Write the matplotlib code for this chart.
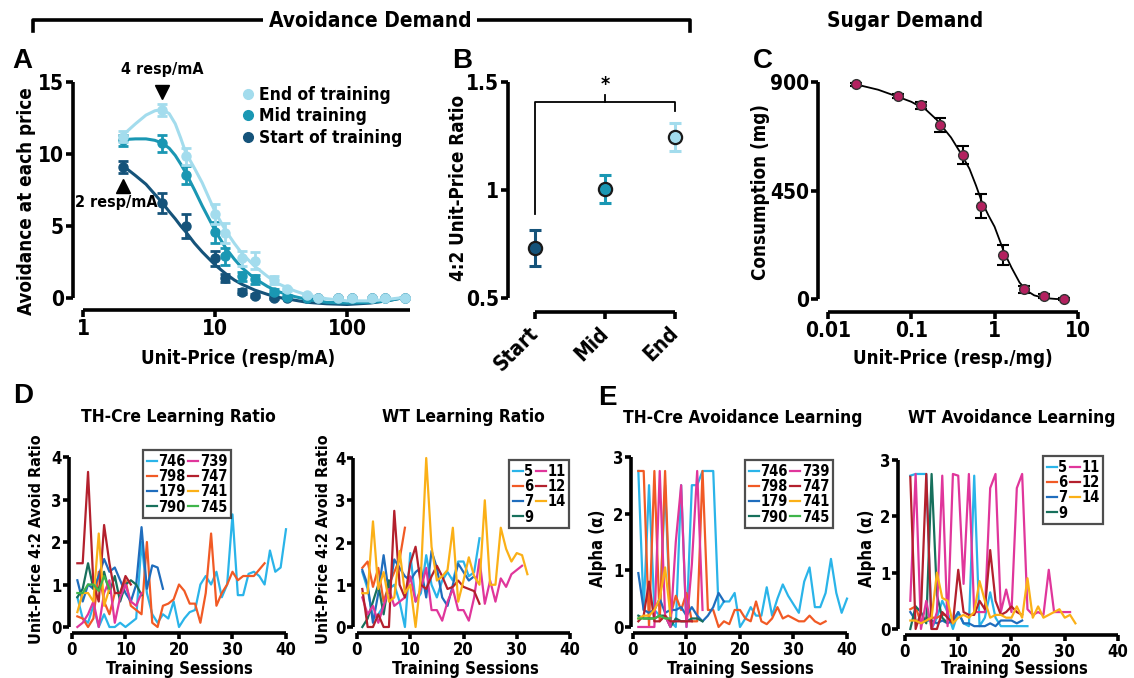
import matplotlib
matplotlib.use("Agg")
import matplotlib.pyplot as plt
from matplotlib import font_manager
from matplotlib.lines import Line2D

W, H = 1134, 678

# ---------------- data ----------------
# Panel A: avoidance demand at each unit price
a_price = [2, 4, 6, 10, 12, 16, 20, 28, 35, 50, 60, 86, 110, 155, 195, 277]
a_end = [11.2, 13.05, 9.85, 5.85, 4.5, 2.75, 2.6, 1.25, 0.6, 0.2, 0.0, 0.0, 0.0, 0.0, 0.0, 0.0]
a_end_err = [0.4, 0.4, 0.6, 0.7, 0.7, 0.5, 0.6, 0.3, 0.1, 0.05, 0, 0, 0, 0, 0, 0]
a_mid = [10.95, 10.75, 8.55, 4.55, 2.9, 1.5, 1.3, 0.45, 0.1, 0.0, 0.0, 0.0, 0.0, 0.0, 0.0, 0.0]
a_mid_err = [0.4, 0.6, 0.6, 0.7, 0.6, 0.3, 0.3, 0.2, 0.1, 0, 0, 0, 0, 0, 0, 0]
a_start = [9.1, 6.6, 5.0, 2.75, 1.4, 0.45, 0.15, 0.0, 0.0, 0.0, 0.0, 0.0, 0.0, 0.0, 0.0, 0.0]
a_start_err = [0.4, 0.7, 0.8, 0.5, 0.3, 0.2, 0.1, 0.1, 0, 0, 0, 0, 0, 0, 0, 0]

# fitted curves
fit_price = [2, 2.5, 3, 3.5, 4, 4.5, 5, 5.5, 6, 7, 8, 10, 12, 14, 16, 20, 25, 30, 40, 50, 70, 100, 150, 200, 277]
fit_end = [11.3, 12.1, 12.7, 13.0, 13.1, 12.8, 12.1, 11.1, 10.1, 9.0, 8.0, 6.0, 4.7, 3.8, 3.1, 2.2, 1.5, 1.0, 0.5, 0.2, -0.05, -0.2, -0.2, -0.1, 0.05]
fit_mid = [11.0, 11.05, 11.05, 10.95, 10.75, 10.4, 9.9, 9.3, 8.7, 7.5, 6.4, 4.7, 3.5, 2.7, 2.1, 1.35, 0.8, 0.45, 0.1, -0.1, -0.3, -0.35, -0.3, -0.2, 0.05]
fit_start = [9.2, 8.5, 7.9, 7.2, 6.6, 6.0, 5.5, 5.0, 4.6, 3.8, 3.2, 2.3, 1.7, 1.25, 0.95, 0.55, 0.25, 0.05, -0.15, -0.3, -0.4, -0.45, -0.35, -0.2, 0.05]

# Panel B: 4:2 unit-price ratio
b_groups = ["Start", "Mid", "End"]
b_ratio = [0.73, 1.005, 1.245]
b_err = [0.083, 0.065, 0.065]

# Panel C: sugar demand
c_price = [0.0217, 0.0686, 0.132, 0.219, 0.413, 0.69, 1.26, 2.23, 3.94, 6.92]
c_cons = [890, 841, 803, 721, 597, 386, 183, 41, 11, 0]
c_err = [5, 8, 15, 28, 37, 48, 41, 15, 8, 3]
c_fit_price = [0.02, 0.04, 0.07, 0.1, 0.15, 0.2, 0.3, 0.4, 0.5, 0.6, 0.7, 0.85, 1.0, 1.3, 1.6, 2.0, 2.5, 3.0, 4.0, 5.5, 7.0]
c_fit_cons = [893, 868, 838, 818, 785, 745, 670, 600, 540, 470, 405, 345, 300, 195, 130, 68, 32, 15, 4, 0, 0]

# Panel D: learning ratio per subject (session 1..n)
d_th = {
    "746": [0.7, 0.2, 0.1, 0.5, 0.0, 0.3, 0.0, 0.0, 0.1, 0.0, 0.1, 0.2, 2.0, 0.8, 0.3, 0.1, 0.3, 0.2, 0.6, 0.0,
            0.2, 0.35, 0.4, 1.0, 1.2, 1.0, 1.3, 0.7, 1.0, 2.65, 0.75, 0.75, 1.25, 1.3, 1.2, 1.0, 1.8, 1.3, 1.4, 2.3],
    "798": [0.25, 0.2, 0.0, 0.2, 1.3, 0.6, 0.3, 0.8, 0.8, 1.1, 0.5, 0.4, 0.3, 2.0, 0.1, 0.0, 0.5, 0.55,
            0.65, 1.0, 0.85, 0.55, 0.55, 0.1, 0.8, 2.2, 0.5, 0.8, 1.0, 1.3, 1.1, 1.2, 1.2, 1.2, 1.35, 1.5],
    "179": [1.1, 0.6, 1.0, 0.9, 1.2, 1.6, 1.3, 1.4, 1.1, 0.8, 0.6, 1.0, 2.35, 0.9, 1.45, 1.4, 0.9],
    "790": [0.7, 0.9, 1.5, 0.9, 0.9, 1.3, 0.8, 1.2, 0.6, 1.0, 1.1, 1.0, 0.75],
    "739": [0.0, 0.1, 0.3, 0.6, 0.0, 0.8, 1.1, 0.1, 0.7, 1.0, 0.6, 0.5, 0.8],
    "747": [1.5, 1.5, 3.65, 1.0, 0.6, 2.4, 1.5, 0.8, 0.8, 1.2, 1.0],
    "741": [0.35, 0.8, 0.8, 0.6, 2.2, 0.5, 0.9],
    "745": [0.8, 0.8, 1.0, 1.0, 0.85, 1.2, 0.9],
}
d_wt = {
    "5": [1.3, 0.9, 0.2, 0.3, 0.5, 0.9, 1.0, 0.6, 0.0, 1.75, 0.6, 0.8, 1.7, 1.0, 0.7, 1.1, 1.3, 1.1, 1.55, 1.55, 1.2, 1.3, 2.1],
    "6": [1.4, 1.55, 0.95, 1.4, 0.6, 1.0, 1.3, 1.6, 2.35],
    "7": [1.35, 1.0, 0.1, 0.8, 1.7, 0.8, 1.6, 1.4, 1.2, 1.1, 1.3, 1.4, 0.7, 1.8, 1.4, 0.7, 0.5, 1.0, 1.5, 1.3, 1.1, 1.2],
    "9": [0.0, 0.2, 0.6, 1.0, 0.3, 1.1],
    "11": [0.7, 0.3, 0.5, 0.1, 0.5, 0.9, 0.5, 0.6, 0.7, 1.2, 0.6, 0.9, 1.4, 0.4, 0.4, 0.15, 0.6, 0.9, 0.4, 0.4,
           0.15, 0.7, 1.6, 0.55, 1.1, 0.6, 1.15, 0.95, 1.25, 1.35, 1.45],
    "12": [0.9, 0.0, 0.0, 0.3, 0.0, 0.0, 2.75, 1.0, 0.7, 1.5, 1.9, 1.0, 0.9, 1.2, 1.45, 1.2, 0.9, 0.95, 1.1, 0.95, 0.9, 0.85, 0.55],
    "14": [0.8, 0.8, 2.5, 0.9, 1.3, 0.6, 0.7, 1.8, 0.8, 1.0, 0.0, 1.2, 4.0, 1.9, 1.1, 1.2, 1.35, 2.35, 0.6, 1.1,
           1.65, 1.2, 1.0, 3.0, 1.0, 1.0, 2.35, 1.85, 1.55, 1.75, 1.7, 1.25],
}

# Panel E: alpha per subject
e_th = {
    "746": [2.75, 0.3, 2.5, 0.3, 0.2, 2.5, 0.1, 0.0, 2.5, 0.0, 2.5, 2.5, 2.75, 2.75, 2.75, 0.3, 0.45, 0.45, 0.6, 0.0,
            0.15, 0.35, 0.2, 0.2, 0.7, 0.2, 0.5, 0.75, 0.55, 0.4, 0.25, 0.8, 1.05, 0.35, 0.35, 0.6, 1.2, 0.6, 0.25, 0.5],
    "798": [2.75, 2.75, 0.0, 2.75, 0.1, 2.75, 0.2, 0.55, 0.3, 0.6, 0.1, 0.1, 2.75, 0.3, 0.3, 0.0, 0.1, 0.05,
            0.3, 0.3, 0.15, 0.1, 0.45, 0.1, 0.05, 0.15, 0.35, 0.15, 0.2, 0.15, 0.1, 0.1, 0.2, 0.1, 0.05, 0.1],
    "179": [0.95, 0.3, 0.25, 0.3, 0.5, 0.25, 0.3, 0.3, 0.35, 0.2, 0.35, 0.2, 0.1, 0.2, 0.35, 0.6, 0.45],
    "790": [0.2, 0.15, 0.15, 0.15, 0.2, 0.2, 0.0, 0.15, 0.1, 0.1, 0.15, 0.15, 0.1],
    "739": [0.0, 0.0, 0.0, 0.0, 2.75, 0.2, 0.0, 1.5, 2.5, 0.0, 1.1, 2.75, 0.3],
    "747": [0.1, 0.2, 0.8, 0.1, 0.1, 0.2, 0.1, 0.1, 0.1, 0.1, 0.1],
    "741": [0.15, 0.2, 0.2, 0.3, 0.5, 1.05, 0.2],
    "745": [0.15, 0.15, 0.15, 0.15, 0.2, 0.15, 0.15],
}
e_wt = {
    "5": [2.72, 2.75, 2.75, 2.75, 0.0, 0.2, 0.5, 0.3, 0.0, 0.3, 0.1, 0.05, 2.72, 0.05, 0.2, 0.65, 0.2, 0.05, 0.05, 0.05, 0.05, 0.05, 0.05],
    "6": [0.35, 0.4, 0.1, 0.2, 0.2, 0.2, 0.25, 0.25],
    "7": [0.3, 0.15, 0.1, 0.15, 0.15, 0.1, 0.15, 0.1, 0.15, 0.3, 0.1, 0.1, 0.05, 0.05, 0.05, 0.1, 0.05, 0.15, 0.15, 0.15, 0.1, 0.15],
    "9": [0.0, 0.4, 0.3, 0.1, 2.75, 0.6, 0.2, 0.1],
    "11": [0.5, 2.75, 0.0, 0.5, 0.0, 0.3, 2.72, 0.05, 2.75, 2.72, 0.8, 2.75, 0.3, 0.3, 0.3, 2.5, 2.75, 0.3, 0.7, 0.3,
           2.5, 2.75, 0.35, 0.25, 0.3, 0.25, 1.05, 0.3, 0.3, 0.3, 0.3],
    "12": [2.7, 0.0, 0.3, 2.75, 0.0, 0.0, 0.3, 0.2, 0.1, 1.05, 0.3, 0.25, 0.25, 0.5, 0.35, 1.4, 0.5, 0.25, 0.3, 0.4, 0.3, 0.25],
    "14": [0.15, 0.15, 0.1, 0.15, 0.2, 1.0, 0.55, 0.5, 0.1, 0.2, 0.25, 0.2, 0.3, 0.85, 0.5, 0.2, 0.25, 0.25, 0.2, 0.2,
           0.4, 0.2, 0.9, 0.2, 0.4, 0.2, 0.25, 0.3, 0.35, 0.2, 0.25, 0.1],
}

th_order = ["746", "798", "179", "790", "739", "747", "741", "745"]
wt_order = ["5", "6", "7", "9", "11", "12", "14"]

# ---------------- style ----------------
LIGHT, MID, DARK = "#a3dced", "#1a97b3", "#15537a"
SUGAR = "#b3215f"
subj_col = {
    "746": "#2ab4e9", "739": "#e0369b", "798": "#f15a25", "747": "#b3202d",
    "179": "#1f6dbd", "741": "#fbb017", "790": "#17705c", "745": "#3fb54a",
    "5": "#2ab4e9", "6": "#f15a25", "7": "#1f6dbd", "9": "#17705c",
    "11": "#e0369b", "12": "#b3202d", "14": "#fbb017",
}

names = {f.name for f in font_manager.fontManager.ttflist}
if "Liberation Sans Narrow" in names:
    MAIN = ["Liberation Sans Narrow", "DejaVu Sans"]
    STRETCH = "normal"
else:
    MAIN = ["DejaVu Sans"]
    STRETCH = "condensed"
plt.rcParams["font.family"] = MAIN
plt.rcParams["font.stretch"] = STRETCH
plt.rcParams["font.weight"] = "bold"
plt.rcParams["axes.labelweight"] = "bold"

fig = plt.figure(figsize=(W / 100, H / 100), dpi=100)


def add_ax(l, t, r, b):
    return fig.add_axes([l / W, 1 - b / H, (r - l) / W, (b - t) / H])


def txt(x, y, s, **kw):
    kw.setdefault("ha", "center")
    kw.setdefault("va", "center")
    kw.setdefault("fontweight", "bold")
    return fig.text(x / W, 1 - y / H, s, **kw)


def style(ax, xb, yb, size=13, tick=5):
    for s in ("top", "right"):
        ax.spines[s].set_visible(False)
    for s in ("left", "bottom"):
        ax.spines[s].set_linewidth(2.6)
        ax.spines[s].set_capstyle("butt")
    ax.spines["bottom"].set_bounds(*xb)
    ax.spines["left"].set_bounds(*yb)
    ax.tick_params(direction="out", length=tick, width=2.6, labelsize=size, pad=1.5)
    ax.minorticks_off()
    ax.patch.set_alpha(0)


def letter(x, y, s):
    txt(x, y, s, fontsize=20, family=["Liberation Sans", "DejaVu Sans"], fontstretch="normal")


# ---------------- header ----------------
fig.add_artist(Line2D([33 / W, 33 / W, 690 / W, 690 / W], [1 - 31 / H, 1 - 20 / H, 1 - 20 / H, 1 - 31 / H],
                      color="black", lw=2.6))
txt(370, 21, "Avoidance Demand", fontsize=15,
    bbox=dict(facecolor="white", edgecolor="none", pad=4))
txt(905, 21, "Sugar Demand", fontsize=15)

# ---------------- panel A ----------------
ax = add_ax(73, 70, 410, 310)
ax.set_xscale("log")
ax.set_xlim(0.84, 300)
ax.set_ylim(-0.833, 15.833)
for yv, ye, fy, c, z in [(a_start, a_start_err, fit_start, DARK, 3),
                         (a_mid, a_mid_err, fit_mid, MID, 4),
                         (a_end, a_end_err, fit_end, LIGHT, 5)]:
    ax.plot(fit_price, fy, color=c, lw=2.2, zorder=z)
    ax.errorbar(a_price, yv, yerr=ye, fmt="o", color=c, ms=6.5, capsize=3.5, elinewidth=2,
                capthick=2, zorder=z + 0.5, clip_on=False)
ax.set_xticks([1, 10, 100])
ax.set_xticklabels(["1", "10", "100"])
ax.set_yticks([0, 5, 10, 15])
style(ax, (1, 300), (0, 15), size=15)
ax.plot([4], [14.3], marker="v", color="black", ms=10, clip_on=False)
ax.text(4, 15.85, "4 resp/mA", ha="center", va="center", fontsize=11.5, fontweight="bold")
ax.plot([2], [7.75], marker="^", color="black", ms=10, clip_on=False)
ax.text(1.78, 6.6, "2 resp/mA", ha="center", va="center", fontsize=11.5, fontweight="bold")
handles = [Line2D([], [], ls="none", marker="o", color=c, ms=7) for c in (LIGHT, MID, DARK)]
ax.legend(handles, ["End of training", "Mid training", "Start of training"], loc="upper left",
          bbox_to_anchor=(234 / W, 1 - 77 / H), bbox_transform=fig.transFigure, frameon=False,
          handlelength=0.6, handletextpad=0.35, labelspacing=0.2, borderpad=0, fontsize=12.5)
txt(27, 201, "Avoidance at each price", rotation=90, fontsize=13.5)
txt(238, 358, "Unit-Price (resp/mA)", fontsize=13.5)
letter(22, 61, "A")

# ---------------- panel B ----------------
ax = add_ax(508, 70, 690, 312)
ax.set_xlim(-0.386, 2.214)
ax.set_ylim(0.435, 1.556)
for i, (v, e, c) in enumerate(zip(b_ratio, b_err, (DARK, MID, LIGHT))):
    ax.errorbar([i], [v], yerr=[e], fmt="none", ecolor=c, elinewidth=2.2, capsize=4, capthick=2.2)
    ax.plot([i], [v], "o", mfc=c, mec="#1a1a1a", mew=1.6, ms=9.5)
ax.plot([0, 0, 2, 2], [0.89, 1.41, 1.41, 1.365], color="black", lw=1.3)
ax.plot([1, 1], [1.41, 1.44], color="black", lw=1.3)
ax.text(1, 1.49, "*", ha="center", va="center", fontsize=14, fontweight="bold")
ax.set_xticks(range(3))
ax.set_xticklabels(b_groups, rotation=45, ha="right", va="center", rotation_mode="anchor")
ax.set_yticks([0.5, 1, 1.5])
ax.set_yticklabels(["0.5", "1", "1.5"])
style(ax, (0, 2), (0.5, 1.5), size=15)
ax.tick_params(axis="x", pad=8)
txt(458, 188, "4:2 Unit-Price Ratio", rotation=90, fontsize=13.5)
letter(462, 61, "B")

# ---------------- panel C ----------------
ax = add_ax(818, 70, 1085, 312)
ax.set_xscale("log")
ax.set_xlim(0.00758, 12.2)
ax.set_ylim(-53.9, 949.8)
ax.plot(c_fit_price, c_fit_cons, color="black", lw=1.3, zorder=2)
ax.errorbar(c_price, c_cons, yerr=c_err, fmt="none", ecolor="black", elinewidth=1.5, capsize=4,
            capthick=1.5, zorder=3)
ax.plot(c_price, c_cons, "o", mfc=SUGAR, mec="#333333", mew=1.0, ms=7, zorder=4, ls="none")
ax.set_xticks([0.01, 0.1, 1, 10])
ax.set_xticklabels(["0.01", "0.1", "1", "10"])
ax.set_yticks([0, 450, 900])
style(ax, (0.01, 10), (0, 900), size=15)
txt(760, 192, "Consumption (mg)", rotation=90, fontsize=13.5)
txt(953, 358, "Unit-Price (resp./mg)", fontsize=13.5)
letter(763, 61, "C")


# ---------------- panels D / E ----------------
def spaghetti(box, xlim, ylim, yb, data, order, leg_anchor, yticks):
    ax = add_ax(*box)
    ax.set_xlim(*xlim)
    ax.set_ylim(*ylim)
    handles = []
    for k in order:
        vals = data[k]
        ln, = ax.plot(range(1, len(vals) + 1), vals, color=subj_col[k], lw=1.6, clip_on=False)
        handles.append(ln)
    ax.set_xticks([0, 10, 20, 30, 40])
    ax.set_yticks(yticks)
    style(ax, (0, 40), yb, size=12, tick=4)
    leg = ax.legend(handles, order, ncol=2, loc="upper left", bbox_to_anchor=leg_anchor,
                    bbox_transform=fig.transFigure, fancybox=False, edgecolor="#222222",
                    fontsize=10.5, handlelength=0.7, handletextpad=0.1, columnspacing=0.15,
                    labelspacing=0.02, borderpad=0.25, borderaxespad=0)
    leg.get_frame().set_linewidth(1.6)
    return ax


XL_Y = 669
spaghetti((69, 450, 290, 633), (-0.56, 40.75), (-0.141, 4.165), (0, 4), d_th, th_order,
          (143 / W, 1 - 450 / H), [0, 1, 2, 3, 4])
txt(178, 417, "TH-Cre Learning Ratio", fontsize=12.5)
txt(37, 539, "Unit-Price 4:2 Avoid Ratio", rotation=90, fontsize=11.5)
txt(179, XL_Y, "Training Sessions", fontsize=12)
letter(23, 396, "D")

spaghetti((353, 450, 574, 633), (-0.75, 40.75), (-0.142, 4.19), (0, 4), d_wt, wt_order,
          (509 / W, 1 - 460 / H), [0, 1, 2, 3, 4])
txt(463, 417, "WT Learning Ratio", fontsize=12.5)
txt(323, 539, "Unit-Price 4:2 Avoid Ratio", rotation=90, fontsize=11.5)
txt(465, XL_Y, "Training Sessions", fontsize=12)

spaghetti((631, 450, 850, 633), (-0.37, 40.56), (-0.106, 3.12), (0, 3), e_th, th_order,
          (745 / W, 1 - 460 / H), [0, 1, 2, 3])
txt(743, 418, "TH-Cre Avoidance Learning", fontsize=12.5)
txt(598, 548, "Alpha (\u03b1)", rotation=90, fontsize=12)
txt(740, XL_Y, "Training Sessions", fontsize=12)
letter(607, 398, "E")

spaghetti((898, 452, 1122, 635), (-1.31, 40.75), (-0.107, 3.14), (0, 3), e_wt, wt_order,
          (1043 / W, 1 - 456 / H), [0, 1, 2, 3])
txt(1012, 418, "WT Avoidance Learning", fontsize=12.5)
txt(867, 548, "Alpha (\u03b1)", rotation=90, fontsize=12)
txt(1014, XL_Y, "Training Sessions", fontsize=12)

fig.savefig("out.png", dpi=100)
